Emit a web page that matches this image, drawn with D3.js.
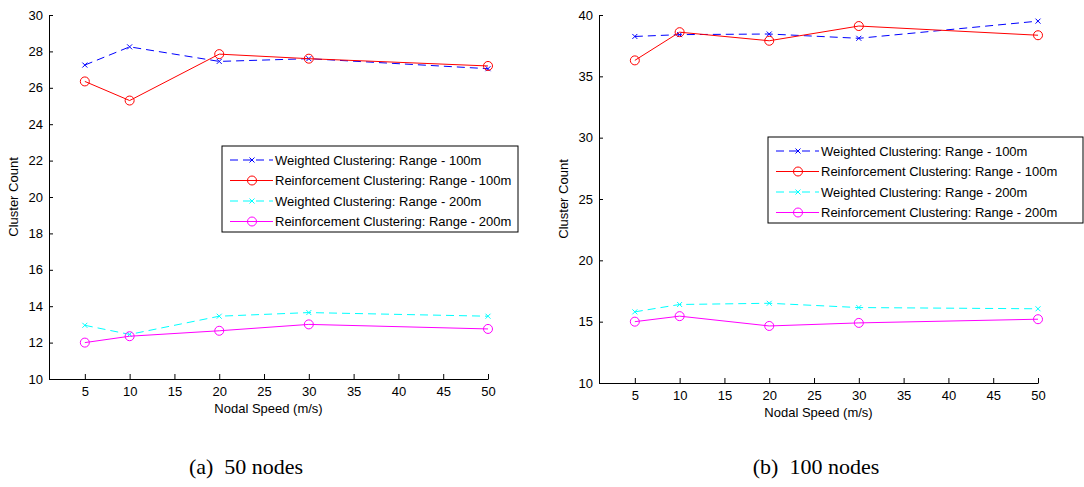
<!DOCTYPE html>
<html>
<head>
<meta charset="utf-8">
<script src="https://cdn.jsdelivr.net/npm/d3@7"></script>
<style>
  body { margin: 0; background: #fff; }
  svg text { font-family: "Liberation Sans", Arial, sans-serif; }
</style>
</head>
<body>
<div id="chart"></div>
<script>
// nodal speeds (m/s)
var speeds = [5, 10, 20, 30, 50];
var xTicks = [5, 10, 15, 20, 25, 30, 35, 40, 45, 50];

var seriesNames = [
    "Weighted Clustering: Range - 100m",
    "Reinforcement Clustering: Range - 100m",
    "Weighted Clustering: Range - 200m",
    "Reinforcement Clustering: Range - 200m"
];

// (a) 50 nodes
var weighted100a = [27.25, 28.25, 27.45, 27.6, 27.05];
var reinforce100a = [26.35, 25.3, 27.85, 27.6, 27.2];
var weighted200a = [12.95, 12.45, 13.45, 13.65, 13.45];
var reinforce200a = [12.0, 12.35, 12.65, 13.0, 12.75];
var yTicksA = [10, 12, 14, 16, 18, 20, 22, 24, 26, 28, 30];

// (b) 100 nodes
var weighted100b = [38.25, 38.4, 38.45, 38.1, 39.5];
var reinforce100b = [36.3, 38.6, 37.9, 39.1, 38.35];
var weighted200b = [15.8, 16.4, 16.5, 16.15, 16.05];
var reinforce200b = [15.0, 15.45, 14.65, 14.9, 15.2];
var yTicksB = [10, 15, 20, 25, 30, 35, 40];

var colors = ["#0000ff", "#ff0000", "#00ffff", "#ff00ff"];
var dashed = [true, false, true, false];
var markers = ["x", "o", "x", "o"];

var svg = d3.select("#chart")
    .append("svg")
    .attr("width", 1084)
    .attr("height", 487);

function drawPanel(opts) {
    var g = svg.append("g");
    var x = d3.scaleLinear().domain([1, 50]).range([opts.left, opts.right]);
    var y = d3.scaleLinear().domain([opts.yTicks[0], opts.yTicks[opts.yTicks.length - 1]])
        .range([opts.bottom, opts.top]);

    // axes, ticks point inward like matlab
    var xAxis = g.append("g")
        .attr("transform", `translate(0,${opts.bottom})`)
        .call(d3.axisBottom(x).tickValues(xTicks).tickSizeInner(-5).tickSizeOuter(0).tickPadding(8));
    var yAxis = g.append("g")
        .attr("transform", `translate(${opts.left},0)`)
        .call(d3.axisLeft(y).tickValues(opts.yTicks).tickSizeInner(-4).tickSizeOuter(0).tickPadding(6));
    [xAxis, yAxis].forEach(a => {
        a.select(".domain").attr("stroke", "#000").attr("stroke-width", 1);
        a.selectAll(".tick line").attr("stroke", "#000");
        a.selectAll("text").attr("font-size", 13).attr("fill", "#000")
            .attr("font-family", "Liberation Sans, Arial, sans-serif");
    });

    g.append("text")
        .attr("x", (opts.left + opts.right) / 2)
        .attr("y", opts.bottom + 34)
        .attr("text-anchor", "middle")
        .attr("font-size", 13)
        .text("Nodal Speed (m/s)");
    g.append("text")
        .attr("transform", `translate(${opts.left - 31},${(opts.top + opts.bottom) / 2}) rotate(-90)`)
        .attr("text-anchor", "middle")
        .attr("font-size", 13)
        .text("Cluster Count");

    var line = d3.line().x((d, i) => x(speeds[i])).y(d => y(d));

    opts.series.forEach((vals, k) => {
        g.append("path")
            .datum(vals)
            .attr("fill", "none")
            .attr("stroke", colors[k])
            .attr("stroke-width", 1)
            .attr("stroke-dasharray", dashed[k] ? "8,5" : null)
            .attr("d", line);
        var pts = g.append("g").selectAll("g").data(vals).join("g")
            .attr("transform", (d, i) => `translate(${x(speeds[i])},${y(d)})`);
        drawMarker(pts, markers[k], colors[k]);
    });

    // legend
    var lg = g.append("g").attr("transform", `translate(${opts.legX},${opts.legY})`);
    lg.append("rect")
        .attr("width", opts.legW).attr("height", 86)
        .attr("fill", "#fff").attr("stroke", "#000").attr("stroke-width", 1);
    seriesNames.forEach((name, k) => {
        var row = lg.append("g").attr("transform", `translate(0,${14 + k * 20.5})`);
        row.append("line")
            .attr("x1", 8).attr("x2", 51)
            .attr("stroke", colors[k])
            .attr("stroke-dasharray", dashed[k] ? "8,5" : null);
        drawMarker(row.append("g").attr("transform", "translate(30,0)"), markers[k], colors[k]);
        row.append("text")
            .attr("x", 53).attr("y", 4.5)
            .attr("font-size", 13)
            .text(name);
    });

    svg.append("text")
        .attr("x", opts.capX).attr("y", 474)
        .attr("text-anchor", "middle")
        .style("font-family", "'Liberation Serif', 'Times New Roman', serif")
        .style("white-space", "pre")
        .attr("font-size", 22)
        .text(opts.caption);
}

function drawMarker(sel, type, color) {
    if (type === "o") {
        sel.append("circle").attr("r", 4.5)
            .attr("fill", "none").attr("stroke", color).attr("stroke-width", 1);
    } else {
        sel.append("path").attr("d", "M-2.5,-2.5L2.5,2.5M-2.5,2.5L2.5,-2.5")
            .attr("stroke", color).attr("stroke-width", 1);
    }
}

drawPanel({
    left: 49, right: 488, top: 15, bottom: 379,
    yTicks: yTicksA,
    series: [weighted100a, reinforce100a, weighted200a, reinforce200a],
    legX: 222, legY: 146, legW: 296,
    capX: 246, caption: "(a)  50 nodes"
});

drawPanel({
    left: 599, right: 1038, top: 15, bottom: 383,
    yTicks: yTicksB,
    series: [weighted100b, reinforce100b, weighted200b, reinforce200b],
    legX: 768, legY: 137, legW: 315,
    capX: 816, caption: "(b)  100 nodes"
});
</script>
</body>
</html>
